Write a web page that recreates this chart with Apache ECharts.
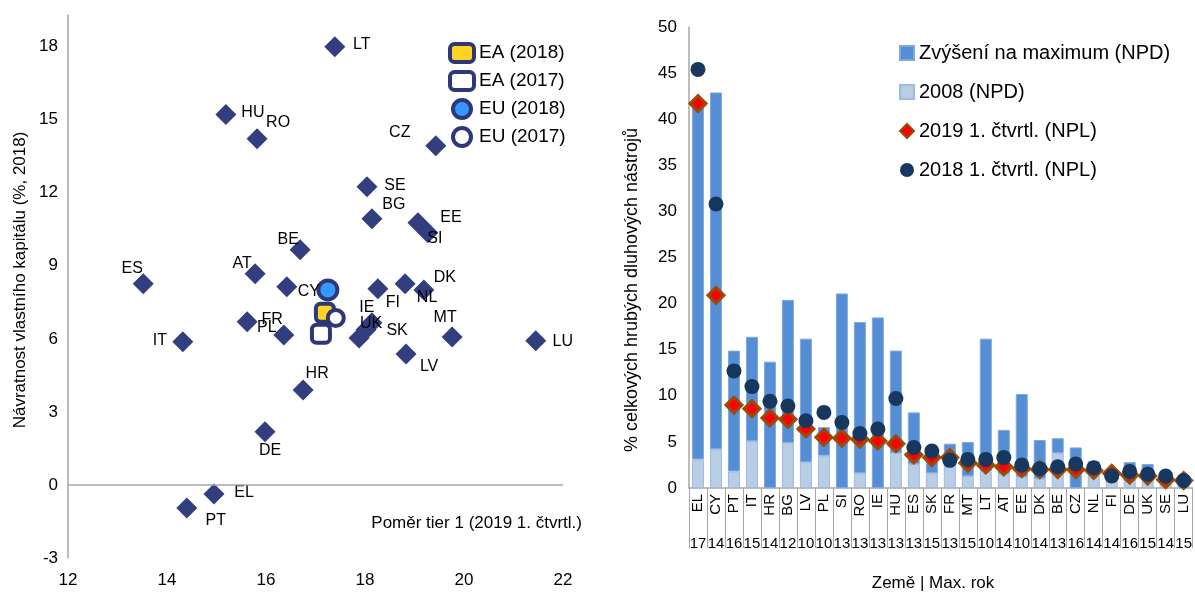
<!DOCTYPE html>
<html><head><meta charset="utf-8">
<script src="https://cdn.jsdelivr.net/npm/echarts@6/dist/echarts.min.js"></script>
<style>html,body{margin:0;padding:0;background:#fff}#c{width:1195px;height:596px}</style>
</head><body><div id="c"></div>
<script>
// ---- Left panel: scatter ----
const countries = ['LT','HU','RO','CZ','SE','BG','EE','SI','BE','ES','AT','CY','FI','DK','NL','IE','UK','SK','MT','FR','PL','IT','LU','LV','HR','DE','EL','PT'];
const tier1 = [17.39,15.19,15.82,19.43,18.04,18.14,19.07,19.27,16.69,13.52,15.78,16.42,18.26,19.19,18.81,18.14,18.02,17.88,19.76,15.62,16.36,14.32,21.45,18.83,16.75,15.98,14.95,14.40];
const roe = [18.0,15.21,14.22,13.93,12.25,10.93,10.77,10.36,9.66,8.26,8.67,8.14,8.06,8.01,8.26,6.66,6.37,6.04,6.08,6.70,6.16,5.88,5.92,5.38,3.90,2.18,-0.37,-0.95];
const aggNames = ['EA (2018)','EA (2017)','EU (2018)','EU (2017)'];
const aggTier1 = [17.19,17.11,17.25,17.41];
const aggRoe = [7.07,6.21,8.01,6.86];
const xTicksLeft = {min:12,max:22,step:2};
const yTicksLeft = {min:-3,max:19.3,step:3};

// ---- Right panel: bars ----
const barCats = ['EL','CY','PT','IT','HR','BG','LV','PL','SI','RO','IE','HU','ES','SK','FR','MT','LT','AT','EE','DK','BE','CZ','NL','FI','DE','UK','SE','LU'];
const maxYears = ['17','14','16','15','14','12','10','10','13','13','13','13','13','15','13','15','10','14','10','14','13','16','14','14','16','15','14','15'];
const npd2008 = [3.1,4.2,1.8,5.1,0,4.9,2.8,3.5,0,1.6,0,3.8,2.6,1.6,2.7,1.3,1.8,1.5,1.2,1.0,3.8,0,1.4,0.8,0.7,0.8,0.5,0.3];
const npdIncrease = [38.7,38.7,13.1,11.3,13.7,15.5,13.4,3.1,21.1,16.4,18.5,11.1,5.6,2.8,2.1,3.7,14.4,4.8,9.0,4.2,1.6,4.4,1.5,0.7,2.1,1.8,0.6,0.2];
const npl2019 = [41.7,20.9,9.0,8.6,7.6,7.45,6.4,5.5,5.4,5.3,5.1,4.8,3.6,3.3,3.3,2.7,2.5,2.3,2.1,2.0,2.0,2.0,1.9,1.6,1.4,1.3,0.9,0.8];
const npl2018 = [45.4,30.8,12.7,11.0,9.4,8.9,7.3,8.2,7.1,5.9,6.4,9.7,4.4,4.0,3.0,3.1,3.1,3.3,2.5,2.1,2.3,2.6,2.2,1.3,1.8,1.5,1.3,0.8];
const yTicksRight = {min:0,max:50,step:5};

// label placement (offset of label centre from marker centre, px)
const labelOffset = {LT:[27,-2],HU:[27,-2],RO:[21,-16],CZ:[-36,-13],SE:[28,-1],BG:[22,-14],EE:[33,-5],SI:[7,6],
  BE:[-12,-10],ES:[-11,-15],AT:[-13,-10],CY:[22,5],FI:[15,14],DK:[21,-12],NL:[22,14],IE:[-5,-15],UK:[5,-6],SK:[38,-7],
  MT:[-7,-19],FR:[25,-2],PL:[-17,-7],IT:[-23,-1],LU:[27,1],LV:[23,13],HR:[14,-16],DE:[5,19],EL:[30,-1],PT:[29,13]};

const FONT = '"Liberation Sans", Arial, sans-serif';
const NAVY = '#333E7E';
const chart = echarts.init(document.getElementById('c'), null, {renderer:'canvas'});

const scatterData = countries.map((c,i)=>({name:c, value:[tier1[i], roe[i]], label:{offset: labelOffset[c]}}));
const agg = i => [[aggTier1[i], aggRoe[i]]];

const option = {
  animation:false,
  backgroundColor:'#fff',
  textStyle:{fontFamily:FONT},
  grid:[
    {left:68, top:15, width:495, height:543},
    {left:689, top:27, width:504, height:461}
  ],
  xAxis:[
    {gridIndex:0, type:'value', min:xTicksLeft.min, max:xTicksLeft.max, interval:xTicksLeft.step,
     axisLine:{show:false}, axisTick:{show:false}, splitLine:{show:false},
     axisLabel:{fontSize:17, color:'#000', margin:14, fontFamily:FONT}},
    {gridIndex:1, type:'category', data:barCats,
     axisLine:{show:true, lineStyle:{color:'#A6A6A6', width:1.5}},
     axisTick:{show:true, interval:0, length:60, lineStyle:{color:'#A6A6A6'}},
     axisLabel:{interval:0, rotate:90, fontSize:15, color:'#000', margin:6, fontFamily:FONT}},
    {gridIndex:1, type:'category', data:maxYears, position:'bottom', offset:40,
     axisLine:{show:false}, axisTick:{show:false},
     axisLabel:{interval:0, fontSize:15, color:'#000', margin:8, fontFamily:FONT}}
  ],
  yAxis:[
    {gridIndex:0, type:'value', min:yTicksLeft.min, max:yTicksLeft.max, interval:yTicksLeft.step,
     axisLine:{show:true, lineStyle:{color:'#A6A6A6', width:1.5}}, axisTick:{show:false}, splitLine:{show:false},
     axisLabel:{fontSize:17, color:'#000', margin:10, showMaxLabel:false, fontFamily:FONT}},
    {gridIndex:1, type:'value', min:yTicksRight.min, max:yTicksRight.max, interval:yTicksRight.step,
     axisLine:{show:true, lineStyle:{color:'#A6A6A6', width:1.5}}, axisTick:{show:false}, splitLine:{show:false},
     axisLabel:{fontSize:17, color:'#000', margin:12, fontFamily:FONT}}
  ],
  legend:[
    {data:['EA (2018)','EA (2017)','EU (2018)','EU (2017)'], orient:'vertical', left:443, top:37,
     itemWidth:24, itemHeight:18, itemGap:6, itemStyle:{borderWidth:4},
     textStyle:{fontSize:19, color:'#000', fontFamily:FONT}},
    {data:[{name:'Zvýšení na maximum (NPD)', icon:'rect'},{name:'2008 (NPD)', icon:'rect'},
           {name:'2019 1. čtvrtl. (NPL)', icon:'diamond'},{name:'2018 1. čtvrtl. (NPL)', icon:'circle'}],
     orient:'vertical', left:894, top:38, itemWidth:14, itemHeight:14, itemGap:19,
     textStyle:{fontSize:20, color:'#000', fontFamily:FONT}}
  ],
  series:[
    {type:'scatter', name:'countries', xAxisIndex:0, yAxisIndex:0, symbol:'diamond', symbolSize:21,
     itemStyle:{color:NAVY, opacity:1}, data:scatterData,
     label:{show:true, position:'inside', formatter:'{b}', color:'#000', fontSize:16, fontFamily:FONT},
     markLine:{silent:true, symbol:'none', label:{show:false}, lineStyle:{color:'#A6A6A6', width:1.5, type:'solid'},
       data:[{yAxis:0}]}},
    {type:'scatter', name:aggNames[0], xAxisIndex:0, yAxisIndex:0, symbol:'roundRect', symbolSize:18,
     itemStyle:{color:'#FFD320', borderColor:'#2E3878', borderWidth:4, opacity:1}, data:agg(0)},
    {type:'scatter', name:aggNames[3], xAxisIndex:0, yAxisIndex:0, symbol:'circle', symbolSize:16,
     itemStyle:{color:'#fff', borderColor:'#2E3878', borderWidth:4, opacity:1}, data:agg(3)},
    {type:'scatter', name:aggNames[1], xAxisIndex:0, yAxisIndex:0, symbol:'roundRect', symbolSize:18,
     itemStyle:{color:'#fff', borderColor:'#2E3878', borderWidth:4, opacity:1}, data:agg(1)},
    {type:'scatter', name:aggNames[2], xAxisIndex:0, yAxisIndex:0, symbol:'circle', symbolSize:19,
     itemStyle:{color:'#3399FF', borderColor:'#2E3878', borderWidth:4, opacity:1}, data:agg(2)},

    {type:'bar', name:'2008 (NPD)', xAxisIndex:1, yAxisIndex:1, stack:'npd', barWidth:12,
     itemStyle:{color:'#B9CDE5', borderColor:'#9DBBE0', borderWidth:1}, data:npd2008},
    {type:'bar', name:'Zvýšení na maximum (NPD)', xAxisIndex:1, yAxisIndex:1, stack:'npd', barWidth:12,
     itemStyle:{color:'#558ED5', borderColor:'#7EA9DF', borderWidth:1}, data:npdIncrease},
    {type:'scatter', name:'2019 1. čtvrtl. (NPL)', xAxisIndex:1, yAxisIndex:1, symbol:'diamond', symbolSize:16,
     itemStyle:{color:'#FF0000', borderColor:'#9C4A06', borderWidth:3, opacity:1}, data:npl2019, z:3},
    {type:'scatter', name:'2018 1. čtvrtl. (NPL)', xAxisIndex:1, yAxisIndex:1, symbol:'circle', symbolSize:15,
     itemStyle:{color:'#17375E', opacity:1}, data:npl2018, z:4}
  ],
  graphic:[
    {type:'text', x:20, y:280, rotation:Math.PI/2, style:{text:'Návratnost vlastního kapitálu (%, 2018)', fill:'#000', font:'17px '+FONT, textAlign:'center', textVerticalAlign:'middle'}},
    {type:'text', x:582, y:523, style:{text:'Poměr tier 1 (2019 1. čtvrtl.)', fill:'#000', font:'17px '+FONT, textAlign:'right', textVerticalAlign:'middle'}},
    {type:'text', x:632, y:290, rotation:Math.PI/2, style:{text:'% celkových hrubých dluhových nástrojů', fill:'#000', font:'18px '+FONT, textAlign:'center', textVerticalAlign:'middle'}},
    {type:'text', x:933, y:583, style:{text:'Země | Max. rok', fill:'#000', font:'17px '+FONT, textAlign:'center', textVerticalAlign:'middle'}}
  ]
};
chart.setOption(option);
</script>
</body></html>
